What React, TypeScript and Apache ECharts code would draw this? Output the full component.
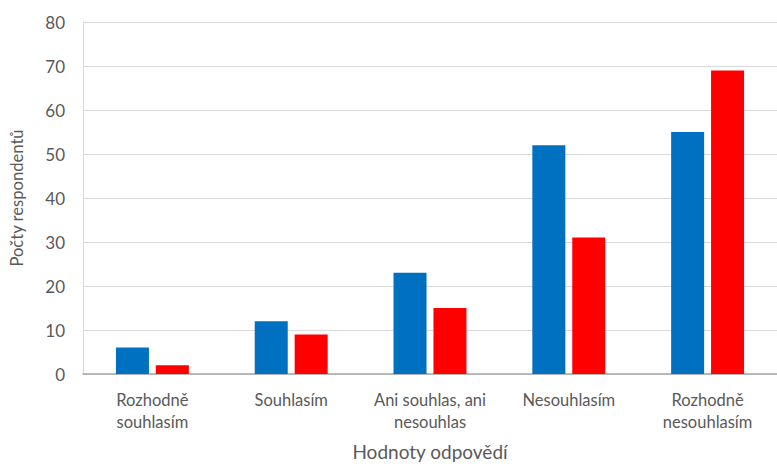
import React, { useEffect, useRef } from "react";
import * as echarts from "echarts";

const categories = [
  "Rozhodně\nsouhlasím",
  "Souhlasím",
  "Ani souhlas, ani\nnesouhlas",
  "Nesouhlasím",
  "Rozhodně\nnesouhlasím",
];
const seriesBlue = [6, 12, 23, 52, 55];
const seriesRed = [2, 9, 15, 31, 69];
const yTicks = { min: 0, max: 80, interval: 10 };

const FONT = "Lato, 'Open Sans', sans-serif";

export default function App() {
  const ref = useRef<HTMLDivElement>(null);
  useEffect(() => {
    if (!ref.current) return;
    const chart = echarts.init(ref.current, undefined, { renderer: "svg" });
    chart.setOption({
      animation: false,
      textStyle: { fontFamily: FONT },
      grid: { left: 80, right: -8, top: 22, bottom: 88, containLabel: false },
      xAxis: {
        type: "category",
        data: categories,
        name: "Hodnoty odpovědí",
        nameLocation: "middle",
        nameGap: 68,
        nameTextStyle: { color: "#595959", fontSize: 19, fontFamily: FONT },
        axisLine: { show: true, lineStyle: { color: "#a6a6a6", width: 1.5 } },
        axisTick: { show: false },
        axisLabel: {
          color: "#595959",
          fontSize: 16.5,
          fontFamily: FONT,
          margin: 15,
          lineHeight: 22,
          interval: 0,
        },
      },
      yAxis: {
        type: "value",
        min: yTicks.min,
        max: yTicks.max,
        interval: yTicks.interval,
        name: "Počty respondentů",
        nameLocation: "middle",
        nameGap: 58,
        nameRotate: 90,
        nameTextStyle: { color: "#595959", fontSize: 16.6, fontFamily: FONT },
        axisLine: { show: true, lineStyle: { color: "#d9d9d9", width: 1 } },
        axisTick: { show: false },
        axisLabel: { color: "#595959", fontSize: 17, fontFamily: FONT, margin: 18 },
        splitLine: { show: true, lineStyle: { color: "#d9d9d9", width: 1 } },
      },
      series: [
        {
          type: "bar",
          data: seriesBlue,
          barWidth: 33,
          barGap: "21%",
          itemStyle: { color: "#0070c0" },
        },
        {
          type: "bar",
          data: seriesRed,
          barWidth: 33,
          itemStyle: { color: "#ff0000" },
        },
      ],
    });
    return () => chart.dispose();
  }, []);
  return <div ref={ref} style={{ width: 777, height: 466, position: "absolute", left: 0, top: 0 }} />;
}
